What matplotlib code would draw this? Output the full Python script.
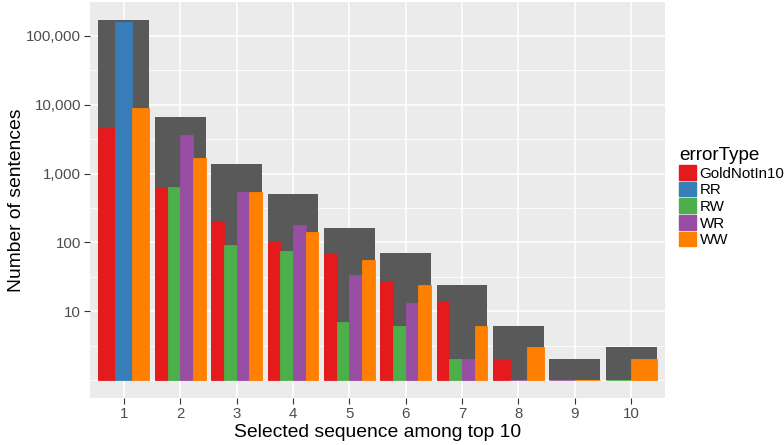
import numpy as np
import matplotlib
matplotlib.use('Agg')
import matplotlib.pyplot as plt
from matplotlib.ticker import NullFormatter

plt.rcParams['font.family'] = ['Liberation Sans', 'DejaVu Sans']

# Datos (nan = grupo ausente, 1 = barra de altura cero en escala log)
positions = [1, 2, 3, 4, 5, 6, 7, 8, 9, 10]
error_types = ["GoldNotIn10", "RR", "RW", "WR", "WW"]
colors = ["#E41A1C", "#377EB8", "#4DAF4A", "#984EA3", "#FF7F00"]
nan = np.nan
gold_not_in10 = [4600, 620, 205, 105, 68, 27, 14, 2, nan, nan]
rr = [157000, nan, nan, nan, nan, nan, nan, nan, nan, nan]
rw = [nan, 630, 92, 75, 7, 6, 2, nan, nan, 1]
wr = [nan, 3600, 540, 179, 33, 13, 2, 1, 1, nan]
ww = [8900, 1700, 540, 143, 56, 24, 6, 3, 1, 2]
totals = [170000, 6600, 1370, 505, 162, 70, 24, 6, 2, 3]
series = [gold_not_in10, rr, rw, wr, ww]

fig = plt.figure(figsize=(7.84, 4.45), dpi=100)
ax = fig.add_axes([90 / 784, 47 / 445, 575 / 784, 396 / 445])
ax.set_facecolor("#EBEBEB")
for s in ax.spines.values():
    s.set_visible(False)

ax.set_yscale("log")
bw = 0.9
# Barra gris del total
ax.bar(positions, np.array(totals) - 1, width=bw, bottom=1, color="#595959",
       linewidth=0, zorder=2)

# Barras por tipo de error (dodge sólo con los grupos presentes)
for i, x in enumerate(positions):
    present = [k for k in range(len(series)) if not np.isnan(series[k][i])]
    w = bw / len(present)
    for j, k in enumerate(present):
        v = series[k][i]
        ax.bar(x - bw / 2 + j * w, v - 1, width=w, bottom=1, align="edge",
               color=colors[k], edgecolor=colors[k], linewidth=0.6, zorder=3)

lo = -0.05 * np.log10(max(totals))
hi = np.log10(max(totals)) * 1.05
ax.set_ylim(10 ** lo, 10 ** hi)
ax.set_xlim(0.4, 10.6)

yt = [10, 100, 1000, 10000, 100000]
ax.set_yticks(yt)
ax.set_yticklabels(["{:,}".format(v) for v in yt])
ax.set_yticks([10 ** (k + 0.5) for k in range(0, 6) if k + 0.5 < hi] + [1], minor=True)
ax.yaxis.set_minor_formatter(NullFormatter())
ax.set_xticks(positions)
ax.set_xticklabels([str(p) for p in positions])

ax.grid(True, which="major", color="white", linewidth=1.1, zorder=0)
ax.grid(True, which="minor", axis="y", color="white", linewidth=0.55, zorder=0)
ax.set_axisbelow(True)
ax.tick_params(which="major", length=4, width=0.8, color="#333333",
               labelcolor="#4D4D4D", labelsize=10.8, pad=2.5)
ax.tick_params(which="minor", length=0)

ax.set_xlabel("Selected sequence among top 10", fontsize=13.9, labelpad=2)
ax.set_ylabel("Number of sentences", fontsize=13.9, labelpad=1)

handles = [plt.Rectangle((0, 0), 1, 1, color=c) for c in colors]
leg = fig.legend(handles, error_types, title="errorType", loc="upper left",
                 bbox_to_anchor=(679 / 784, 1 - 147 / 445), frameon=False,
                 fontsize=10.9, title_fontsize=13.6, handlelength=1.1,
                 handleheight=1.1, labelspacing=0.08, handletextpad=0.25,
                 borderpad=0, borderaxespad=0, alignment="left")

fig.savefig("out.png", dpi=100)
